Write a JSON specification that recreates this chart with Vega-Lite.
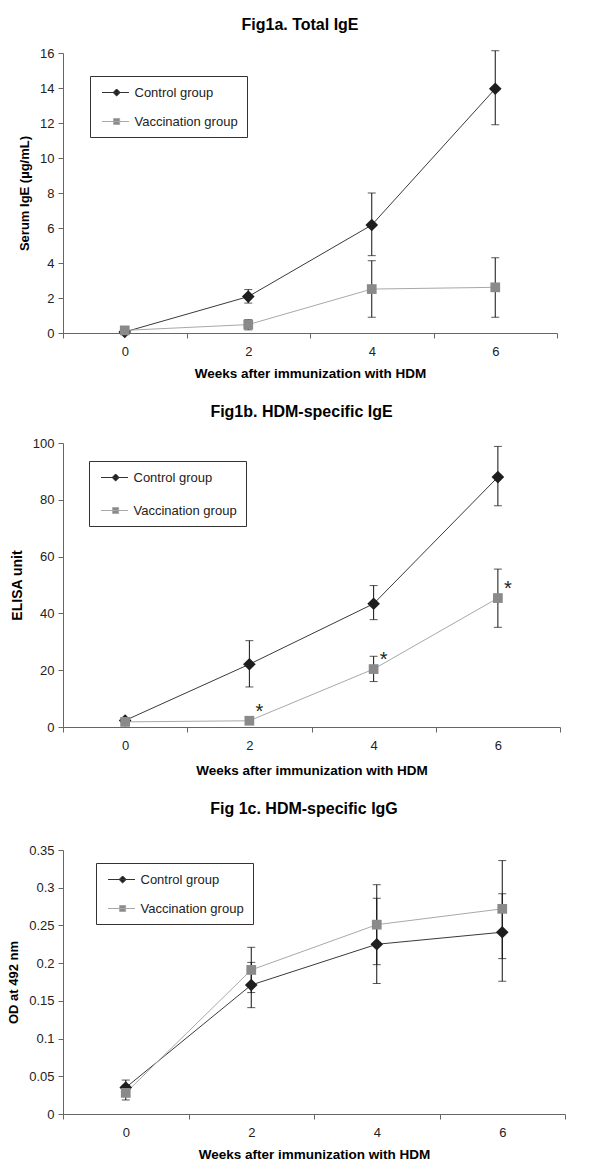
{
  "$schema": "https://vega.github.io/schema/vega-lite/v6.json",
  "padding": {"left": 7, "top": 17, "right": 5, "bottom": 5},
  "background": "white",
  "spacing": 24,
  "resolve": {"scale": {"fill": "independent"}, "legend": {"fill": "independent"}},
  "datasets": {
    "a": [
      {"week": 0, "group": "Control group", "mean": 0.06, "lo": 0.0, "hi": 0.14},
      {"week": 2, "group": "Control group", "mean": 2.08, "lo": 1.71, "hi": 2.48},
      {"week": 4, "group": "Control group", "mean": 6.17, "lo": 4.42, "hi": 8.0},
      {"week": 6, "group": "Control group", "mean": 13.96, "lo": 11.9, "hi": 16.13},
      {"week": 0, "group": "Vaccination group", "mean": 0.15, "lo": 0.03, "hi": 0.27},
      {"week": 2, "group": "Vaccination group", "mean": 0.48, "lo": 0.18, "hi": 0.76},
      {"week": 4, "group": "Vaccination group", "mean": 2.51, "lo": 0.9, "hi": 4.13},
      {"week": 6, "group": "Vaccination group", "mean": 2.61, "lo": 0.9, "hi": 4.3}
    ],
    "b": [
      {"week": 0, "group": "Control group", "mean": 2.3, "lo": 1.3, "hi": 3.3},
      {"week": 2, "group": "Control group", "mean": 22.1, "lo": 14.1, "hi": 30.4},
      {"week": 4, "group": "Control group", "mean": 43.4, "lo": 37.8, "hi": 49.8},
      {"week": 6, "group": "Control group", "mean": 88.0, "lo": 77.9, "hi": 98.8},
      {"week": 0, "group": "Vaccination group", "mean": 1.8, "lo": 1.0, "hi": 2.6},
      {"week": 2, "group": "Vaccination group", "mean": 2.2, "lo": 1.6, "hi": 2.8, "sig": "*"},
      {"week": 4, "group": "Vaccination group", "mean": 20.4, "lo": 16.0, "hi": 24.9, "sig": "*"},
      {"week": 6, "group": "Vaccination group", "mean": 45.4, "lo": 35.1, "hi": 55.6, "sig": "*"}
    ],
    "c": [
      {"week": 0, "group": "Control group", "mean": 0.035, "lo": 0.025, "hi": 0.045},
      {"week": 2, "group": "Control group", "mean": 0.171, "lo": 0.141, "hi": 0.201},
      {"week": 4, "group": "Control group", "mean": 0.225, "lo": 0.173, "hi": 0.286},
      {"week": 6, "group": "Control group", "mean": 0.241, "lo": 0.176, "hi": 0.292},
      {"week": 0, "group": "Vaccination group", "mean": 0.028, "lo": 0.0186, "hi": 0.038},
      {"week": 2, "group": "Vaccination group", "mean": 0.191, "lo": 0.161, "hi": 0.221},
      {"week": 4, "group": "Vaccination group", "mean": 0.251, "lo": 0.198, "hi": 0.304},
      {"week": 6, "group": "Vaccination group", "mean": 0.272, "lo": 0.206, "hi": 0.336}
    ]
  },
  "vconcat": [
    {
      "data": {"name": "a"},
      "width": 494,
      "height": 280,
      "title": {"text": "Fig1a. Total IgE", "offset": 14, "dx": -10},
      "encoding": {
        "x": {
          "field": "week", "type": "quantitative",
          "scale": {"domain": [-1, 7], "nice": false, "zero": false},
          "axis": {
            "values": [-1, 0, 1, 2, 3, 4, 5, 6, 7],
            "labelExpr": "(datum.value % 2 === 0 && datum.value >= 0 && datum.value <= 6) ? datum.label : ''",
            "tickOpacity": {"condition": {"test": "datum.value % 2 === 0", "value": 0}, "value": 1},
            "title": "Weeks after immunization with HDM",
            "titlePadding": 8
          }
        },
        "y": {"field": "mean", "type": "quantitative", "scale": {"domain": [0, 16], "nice": false},
          "axis": {"values": [0, 2, 4, 6, 8, 10, 12, 14, 16], "title": "Serum IgE (µg/mL)"}}
      },
      "layer": [
        {
          "mark": {"type": "line", "strokeWidth": 1},
          "encoding": {
            "detail": {"field": "group"},
            "stroke": {"condition": {"test": "datum.group === 'Control group'", "value": "#3a3a3a"}, "value": "#a8a8a8"}
          }
        },
        {
          "mark": {"type": "rule", "color": "#111", "strokeWidth": 1},
          "encoding": {"y": {"field": "lo", "type": "quantitative", "axis": {"values": [0, 2, 4, 6, 8, 10, 12, 14, 16], "title": "Serum IgE (µg/mL)"}}, "y2": {"field": "hi"}}
        },
        {
          "mark": {"type": "tick", "orient": "horizontal", "color": "#111", "thickness": 1, "size": 8},
          "encoding": {"y": {"field": "lo", "type": "quantitative", "axis": {"values": [0, 2, 4, 6, 8, 10, 12, 14, 16], "title": "Serum IgE (µg/mL)"}}}
        },
        {
          "mark": {"type": "tick", "orient": "horizontal", "color": "#111", "thickness": 1, "size": 8},
          "encoding": {"y": {"field": "hi", "type": "quantitative", "axis": {"values": [0, 2, 4, 6, 8, 10, 12, 14, 16], "title": "Serum IgE (µg/mL)"}}}
        },
        {
          "mark": {"type": "point", "filled": true, "opacity": 1, "strokeWidth": 0},
          "encoding": {
            "shape": {"condition": {"test": "datum.group === 'Control group'", "value": "diamond"}, "value": "square"},
            "size": {"condition": {"test": "datum.group === 'Control group'", "value": 160}, "value": 95},
            "fill": {
              "field": "group", "type": "nominal",
              "scale": {"domain": ["Control group", "Vaccination group"], "range": ["#1e1e1e", "#8a8a8a"]},
              "legend": {
                "title": null, "orient": "none", "legendX": 27, "legendY": 23, "rowPadding": 14,
                "strokeColor": "#333", "padding": 8.5, "symbolSize": 225, "labelOffset": 20,
                "labelFontSize": 13, "labelColor": "#222", "labelLimit": 200, "fillColor": "white",
                "encode": {"symbols": {"update": {
                  "shape": {"signal": "datum.value === 'Control group' ? 'M-0.6,0L3.0,0M1.35,-0.47L1.82,0L1.35,0.47L0.88,0Z' : 'M-0.6,0L3.0,0M0.95,-0.4L1.75,-0.4L1.75,0.4L0.95,0.4Z'"},
                  "fill": {"signal": "datum.value === 'Control group' ? '#1e1e1e' : '#8a8a8a'"},
                  "stroke": {"signal": "datum.value === 'Control group' ? '#333333' : '#a8a8a8'"},
                  "strokeWidth": {"value": 1},
                  "opacity": {"value": 1}
                }}}
              }
            }
          }
        }
      ]
    },
    {
      "data": {"name": "b"},
      "width": 497,
      "height": 284,
      "title": {"text": "Fig1b. HDM-specific IgE", "offset": 17, "dx": -10},
      "encoding": {
        "x": {
          "field": "week", "type": "quantitative",
          "scale": {"domain": [-1, 7], "nice": false, "zero": false},
          "axis": {
            "values": [-1, 0, 1, 2, 3, 4, 5, 6, 7],
            "labelExpr": "(datum.value % 2 === 0 && datum.value >= 0 && datum.value <= 6) ? datum.label : ''",
            "tickOpacity": {"condition": {"test": "datum.value % 2 === 0", "value": 0}, "value": 1},
            "title": "Weeks after immunization with HDM",
            "titlePadding": 11
          }
        },
        "y": {"field": "mean", "type": "quantitative", "scale": {"domain": [0, 100], "nice": false},
          "axis": {"values": [0, 20, 40, 60, 80, 100], "title": "ELISA unit", "titleFontSize": 14}}
      },
      "layer": [
        {
          "mark": {"type": "line", "strokeWidth": 1},
          "encoding": {
            "detail": {"field": "group"},
            "stroke": {"condition": {"test": "datum.group === 'Control group'", "value": "#3a3a3a"}, "value": "#a8a8a8"}
          }
        },
        {
          "mark": {"type": "rule", "color": "#111", "strokeWidth": 1},
          "encoding": {"y": {"field": "lo", "type": "quantitative", "axis": {"values": [0, 20, 40, 60, 80, 100], "title": "ELISA unit", "titleFontSize": 14}}, "y2": {"field": "hi"}}
        },
        {
          "mark": {"type": "tick", "orient": "horizontal", "color": "#111", "thickness": 1, "size": 8},
          "encoding": {"y": {"field": "lo", "type": "quantitative", "axis": {"values": [0, 20, 40, 60, 80, 100], "title": "ELISA unit", "titleFontSize": 14}}}
        },
        {
          "mark": {"type": "tick", "orient": "horizontal", "color": "#111", "thickness": 1, "size": 8},
          "encoding": {"y": {"field": "hi", "type": "quantitative", "axis": {"values": [0, 20, 40, 60, 80, 100], "title": "ELISA unit", "titleFontSize": 14}}}
        },
        {
          "mark": {"type": "point", "filled": true, "opacity": 1, "strokeWidth": 0},
          "encoding": {
            "shape": {"condition": {"test": "datum.group === 'Control group'", "value": "diamond"}, "value": "square"},
            "size": {"condition": {"test": "datum.group === 'Control group'", "value": 160}, "value": 95},
            "fill": {
              "field": "group", "type": "nominal",
              "scale": {"domain": ["Control group", "Vaccination group"], "range": ["#1e1e1e", "#8a8a8a"]},
              "legend": {
                "title": null, "orient": "none", "legendX": 26, "legendY": 18, "rowPadding": 18,
                "strokeColor": "#333", "padding": 8.5, "symbolSize": 225, "labelOffset": 20,
                "labelFontSize": 13, "labelColor": "#222", "labelLimit": 200, "fillColor": "white",
                "encode": {"symbols": {"update": {
                  "shape": {"signal": "datum.value === 'Control group' ? 'M-0.6,0L3.0,0M1.35,-0.47L1.82,0L1.35,0.47L0.88,0Z' : 'M-0.6,0L3.0,0M0.95,-0.4L1.75,-0.4L1.75,0.4L0.95,0.4Z'"},
                  "fill": {"signal": "datum.value === 'Control group' ? '#1e1e1e' : '#8a8a8a'"},
                  "stroke": {"signal": "datum.value === 'Control group' ? '#333333' : '#a8a8a8'"},
                  "strokeWidth": {"value": 1},
                  "opacity": {"value": 1}
                }}}
              }
            }
          }
        },
        {
          "transform": [{"filter": "datum.sig"}],
          "mark": {"type": "text", "fontSize": 20, "color": "#222", "dx": 10, "dy": -3, "baseline": "alphabetic", "align": "center"},
          "encoding": {
            "text": {"field": "sig"}
          }
        }
      ]
    },
    {
      "data": {"name": "c"},
      "width": 502,
      "height": 264,
      "title": {"text": "Fig 1c. HDM-specific IgG", "offset": 27, "dx": -10},
      "encoding": {
        "x": {
          "field": "week", "type": "quantitative",
          "scale": {"domain": [-1, 7], "nice": false, "zero": false},
          "axis": {
            "values": [-1, 0, 1, 2, 3, 4, 5, 6, 7],
            "labelExpr": "(datum.value % 2 === 0 && datum.value >= 0 && datum.value <= 6) ? datum.label : ''",
            "tickOpacity": {"condition": {"test": "datum.value % 2 === 0", "value": 0}, "value": 1},
            "title": "Weeks after immunization with HDM",
            "titlePadding": 8
          }
        },
        "y": {"field": "mean", "type": "quantitative", "scale": {"domain": [0, 0.35], "nice": false},
          "axis": {"values": [0, 0.05, 0.1, 0.15, 0.2, 0.25, 0.3, 0.35], "format": "~g", "title": "OD at 492 nm"}}
      },
      "layer": [
        {
          "mark": {"type": "line", "strokeWidth": 1},
          "encoding": {
            "detail": {"field": "group"},
            "stroke": {"condition": {"test": "datum.group === 'Control group'", "value": "#3a3a3a"}, "value": "#a8a8a8"}
          }
        },
        {
          "mark": {"type": "rule", "color": "#111", "strokeWidth": 1},
          "encoding": {"y": {"field": "lo", "type": "quantitative", "axis": {"values": [0, 0.05, 0.1, 0.15, 0.2, 0.25, 0.3, 0.35], "format": "~g", "title": "OD at 492 nm"}}, "y2": {"field": "hi"}}
        },
        {
          "mark": {"type": "tick", "orient": "horizontal", "color": "#111", "thickness": 1, "size": 8},
          "encoding": {"y": {"field": "lo", "type": "quantitative", "axis": {"values": [0, 0.05, 0.1, 0.15, 0.2, 0.25, 0.3, 0.35], "format": "~g", "title": "OD at 492 nm"}}}
        },
        {
          "mark": {"type": "tick", "orient": "horizontal", "color": "#111", "thickness": 1, "size": 8},
          "encoding": {"y": {"field": "hi", "type": "quantitative", "axis": {"values": [0, 0.05, 0.1, 0.15, 0.2, 0.25, 0.3, 0.35], "format": "~g", "title": "OD at 492 nm"}}}
        },
        {
          "mark": {"type": "point", "filled": true, "opacity": 1, "strokeWidth": 0},
          "encoding": {
            "shape": {"condition": {"test": "datum.group === 'Control group'", "value": "diamond"}, "value": "square"},
            "size": {"condition": {"test": "datum.group === 'Control group'", "value": 160}, "value": 95},
            "fill": {
              "field": "group", "type": "nominal",
              "scale": {"domain": ["Control group", "Vaccination group"], "range": ["#1e1e1e", "#8a8a8a"]},
              "legend": {
                "title": null, "orient": "none", "legendX": 33, "legendY": 13, "rowPadding": 14,
                "strokeColor": "#333", "padding": 8.5, "symbolSize": 225, "labelOffset": 20,
                "labelFontSize": 13, "labelColor": "#222", "labelLimit": 200, "fillColor": "white",
                "encode": {"symbols": {"update": {
                  "shape": {"signal": "datum.value === 'Control group' ? 'M-0.6,0L3.0,0M1.35,-0.47L1.82,0L1.35,0.47L0.88,0Z' : 'M-0.6,0L3.0,0M0.95,-0.4L1.75,-0.4L1.75,0.4L0.95,0.4Z'"},
                  "fill": {"signal": "datum.value === 'Control group' ? '#1e1e1e' : '#8a8a8a'"},
                  "stroke": {"signal": "datum.value === 'Control group' ? '#333333' : '#a8a8a8'"},
                  "strokeWidth": {"value": 1},
                  "opacity": {"value": 1}
                }}}
              }
            }
          }
        }
      ]
    }
  ],
  "config": {
    "font": "Liberation Sans",
    "view": {"stroke": null},
    "title": {"fontSize": 16, "fontWeight": "bold", "color": "#000", "anchor": "middle", "frame": "group"},
    "axis": {
      "grid": false,
      "labelFont": "Liberation Sans",
      "labelFontSize": 13,
      "labelColor": "#222",
      "titleFont": "Liberation Sans",
      "titleFontSize": 13,
      "titleFontWeight": "bold",
      "titleColor": "#000",
      "domainColor": "#666",
      "tickColor": "#666",
      "tickSize": 5
    },
    "axisX": {"labelPadding": 7, "titleFontSize": 13.5},
    "axisY": {"labelPadding": 4, "titlePadding": 8},
    "legend": {
      "labelFont": "Liberation Sans",
      "symbolOpacity": 1
    }
  }
}
